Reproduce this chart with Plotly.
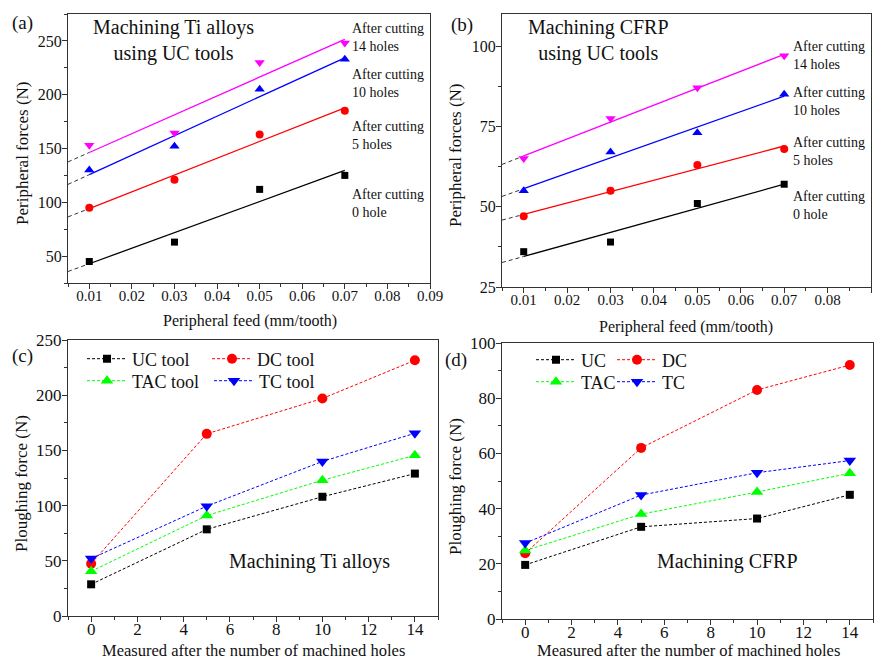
import numpy as np
import plotly.graph_objects as go

W, H = 884, 662
FONT = "Liberation Serif"

# ---------------- data ----------------
feed = [0.01, 0.03, 0.05, 0.07]
hole_series = ["0 hole", "5 holes", "10 holes", "14 holes"]
ti_uc = {
    "0 hole": [45, 63, 112, 125],
    "5 holes": [95, 121, 163, 185],
    "10 holes": [130, 152, 205, 233],
    "14 holes": [153, 164.5, 230, 248],
}
cfrp_uc = {
    "0 hole": [36, 39, 51, 57],
    "5 holes": [47, 55, 63, 68],
    "10 holes": [55, 67, 73, 85],
    "14 holes": [65, 77.5, 87, 97],
}

holes = [0, 5, 10, 14]
tools_ti = ["UC tool", "DC tool", "TAC tool", "TC tool"]
tools_cfrp = ["UC", "DC", "TAC", "TC"]
ti_plough = {
    "UC": [28.7, 78.5, 108, 129],
    "DC": [47.4, 165, 197, 231.6],
    "TAC": [40.5, 91, 123, 145.5],
    "TC": [52, 99.5, 140, 165.5],
}
cfrp_plough = {
    "UC": [19.6, 33.4, 36.4, 45],
    "DC": [23.8, 62, 83, 92],
    "TAC": [24.8, 38, 46, 52.8],
    "TC": [27.5, 44.9, 53, 57.4],
}

# ---------------- styles ----------------
hole_style = {
    "0 hole": dict(color="#000000", symbol="square", size=7),
    "5 holes": dict(color="#ff0000", symbol="circle", size=8),
    "10 holes": dict(color="#0000ff", symbol="triangle-up", size=9),
    "14 holes": dict(color="#ff00ff", symbol="triangle-down", size=9),
}
tool_style = {
    "UC": dict(color="#000000", symbol="square", size=8),
    "DC": dict(color="#ff0000", symbol="circle", size=10),
    "TAC": dict(color="#00ff00", symbol="triangle-up", size=11),
    "TC": dict(color="#0000ff", symbol="triangle-down", size=11),
}


def P(x, y):
    return x / W, 1 - y / H


fig = go.Figure()

# ---------------- panels (a), (b): linear fits ----------------
XMIN_FEED = 0.005
for xa, ya, data in [("x", "y", ti_uc), ("x2", "y2", cfrp_uc)]:
    for name in hole_series:
        st = hole_style[name]
        vals = data[name]
        k, b = np.polyfit(feed, vals, 1)
        ext_x = [XMIN_FEED, feed[0]]
        fit_x = [feed[0], feed[-1]]
        fig.add_trace(go.Scatter(x=ext_x, y=[k * v + b for v in ext_x], mode="lines",
                                 line=dict(color="#333333", width=1, dash="4px,3px"),
                                 xaxis=xa, yaxis=ya, showlegend=False))
        fig.add_trace(go.Scatter(x=fit_x, y=[k * v + b for v in fit_x], mode="lines",
                                 line=dict(color=st["color"], width=1.3),
                                 xaxis=xa, yaxis=ya, showlegend=False))
        fig.add_trace(go.Scatter(x=feed, y=vals, mode="markers",
                                 marker=dict(color=st["color"], symbol=st["symbol"], size=st["size"]),
                                 xaxis=xa, yaxis=ya, showlegend=False))

# ---------------- panels (c), (d): ploughing force ----------------
leg_idx = 1
for xa, ya, data, labels in [("x3", "y3", ti_plough, tools_ti), ("x4", "y4", cfrp_plough, tools_cfrp)]:
    for key, lab in zip(["UC", "DC", "TAC", "TC"], labels):
        st = tool_style[key]
        lg = "legend" if leg_idx == 1 else f"legend{leg_idx}"
        fig.add_trace(go.Scatter(x=holes, y=data[key], mode="lines+markers", name=lab,
                                 line=dict(color=st["color"], width=1, dash="3px,2px"),
                                 marker=dict(color=st["color"], symbol=st["symbol"], size=st["size"]),
                                 xaxis=xa, yaxis=ya, legend=lg))
        leg_idx += 1

# ---------------- axes ----------------
AXC = "#333333"


def axis(domain, rng, dtick, mdtick, anchor, fsize, standoff, fmt=None):
    d = dict(domain=domain, range=rng, dtick=dtick, tick0=0, showline=True, mirror=True,
             linecolor=AXC, linewidth=1.3, ticks="outside", ticklen=5, tickwidth=1.2,
             tickcolor=AXC, showgrid=False, zeroline=False, anchor=anchor,
             automargin=False, ticklabelstandoff=standoff,
             tickfont=dict(family=FONT, size=fsize, color="#111111"),
             minor=dict(ticks="outside", ticklen=3, dtick=mdtick, tick0=0,
                        tickcolor=AXC, tickwidth=1, showgrid=False))
    if fmt:
        d["tickformat"] = fmt
    return d


fig.update_layout(
    xaxis=axis([68 / W, 430 / W], [0.005, 0.09], 0.01, 0.005, "y", 15, -6, ".2f"),
    yaxis=axis([1 - 283 / H, 1 - 14 / H], [25, 275], 50, 25, "x", 16, -3),
    xaxis2=axis([502 / W, 871 / W], [0.005, 0.09], 0.01, 0.005, "y2", 15, -6, ".2f"),
    yaxis2=axis([1 - 287 / H, 1 - 14 / H], [25, 110], 25, 12.5, "x2", 16, -3),
    xaxis3=axis([68 / W, 438 / W], [-1, 15], 2, 1, "y3", 17, -8),
    yaxis3=axis([1 - 616 / H, 1 - 340 / H], [0, 250], 50, 25, "x3", 17, -3),
    xaxis4=axis([502 / W, 873 / W], [-1, 15], 2, 1, "y4", 17, -8),
    yaxis4=axis([1 - 619 / H, 1 - 343 / H], [0, 100], 20, 10, "x4", 17, -3),
)

# ---------------- legends ----------------
leg_pos = [(82, 359), (207, 359), (82, 381), (209, 381),
           (531, 360), (612, 360), (531, 382), (612, 382)]
for i, (lx, ly) in enumerate(leg_pos, start=1):
    px, py = P(lx, ly)
    key = "legend" if i == 1 else f"legend{i}"
    fig.update_layout(**{key: dict(x=px, y=py, xanchor="left", yanchor="middle",
                                   bgcolor="rgba(0,0,0,0)", borderwidth=0, itemwidth=40,
                                   font=dict(family=FONT, size=18, color="#111111"),
                                   orientation="v")})

# ---------------- annotations ----------------
ann = []


def txt(x, y, s, size, angle=0, xanchor="center", align="center", yanchor="middle"):
    px, py = P(x, y)
    ann.append(dict(x=px, y=py, xref="paper", yref="paper", text=s, showarrow=False,
                    font=dict(family=FONT, size=size, color="#111111"), textangle=angle,
                    xanchor=xanchor, yanchor=yanchor, align=align))


# panel labels
txt(22, 23, "(a)", 19)
txt(462, 25, "(b)", 19)
txt(22, 356, "(c)", 19)
txt(456, 360, "(d)", 19)

# inner titles
txt(173, 41, "Machining Ti alloys<br>using UC tools", 20)
txt(598, 41, "Machining CFRP<br>using UC tools", 20)
txt(309, 561, "Machining Ti alloys", 20)
txt(727, 561, "Machining CFRP", 20)

# hole labels
for name, ya_, yb_ in zip(hole_series, [203, 135, 83, 38], [206, 152, 101, 55]):
    txt(350, ya_, "After cutting<br>" + name, 14, xanchor="left", align="left")
    txt(791, yb_, "After cutting<br>" + name, 14, xanchor="left", align="left")

# axis titles
txt(22, 153, "Peripheral forces (N)", 17, angle=-90)
txt(455, 155, "Peripheral forces (N)", 17, angle=-90)
txt(250, 321, "Peripheral feed (mm/tooth)", 16)
txt(686, 327, "Peripheral feed (mm/tooth)", 16)
txt(21, 484, "Ploughing force (N)", 17, angle=-90)
txt(455, 486, "Ploughing force (N)", 17, angle=-90)
txt(254, 662, "Measured after the number of machined holes", 16.5, yanchor="bottom")
txt(688, 662, "Measured after the number of machined holes", 16.5, yanchor="bottom")

fig.update_layout(annotations=ann, width=W, height=H,
                  margin=dict(l=0, r=0, t=0, b=0, autoexpand=False),
                  paper_bgcolor="white", plot_bgcolor="white",
                  font=dict(family=FONT, color="#111111"))

fig.write_html("out.html")
